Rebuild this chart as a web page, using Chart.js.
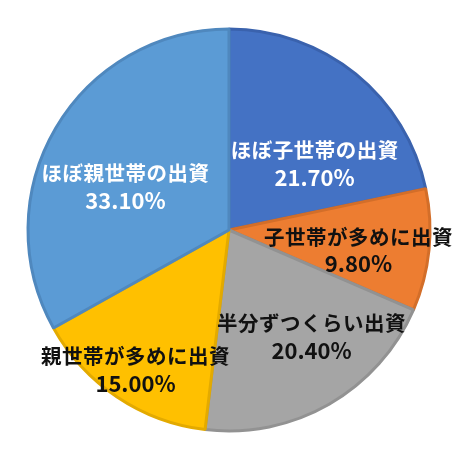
<!DOCTYPE html>
<html>
<head>
<meta charset="utf-8">
<script src="https://cdn.jsdelivr.net/npm/chart.js@4"></script>
<style>
  html, body { margin: 0; padding: 0; background: #fff; }
  #wrap { width: 476px; height: 463px; }
</style>
</head>
<body>
<div id="wrap"><canvas id="pie" width="476" height="463"></canvas></div>
<script>
// data, clockwise from 12 o'clock
const categories = ['ほぼ子世帯の出資', '子世帯が多めに出資', '半分ずつくらい出資', '親世帯が多めに出資', 'ほぼ親世帯の出資'];
const shares = [21.7, 9.8, 20.4, 15.0, 33.1];

const fills = ['#4472C4', '#ED7D31', '#A5A5A5', '#FFC000', '#5B9BD5'];
const edges = ['#3A62AD', '#D36E29', '#929292', '#E3AA00', '#4F88BE'];
const textColors = ['#fff', '#111', '#111', '#111', '#fff'];
// where each label sits, as a fraction of the radius from the centre
const labelSpots = [[0.426, -0.332], [0.644, 0.099], [0.411, 0.530], [-0.465, 0.693], [-0.515, -0.218]];

const pieLabels = {
  id: 'pieLabels',
  afterDatasetsDraw(chart) {
    const ctx = chart.ctx;
    const meta = chart.getDatasetMeta(0);
    ctx.save();
    ctx.textAlign = 'center';
    ctx.textBaseline = 'middle';
    meta.data.forEach((arc, i) => {
      const r = arc.outerRadius;
      const x = arc.x + labelSpots[i][0] * r;
      const y = arc.y + labelSpots[i][1] * r;
      ctx.fillStyle = textColors[i];
      ctx.font = 'bold 20.5px "Noto Sans CJK JP"';
      ctx.letterSpacing = '0.5px';
      ctx.fillText(chart.data.labels[i], x, y - 13);
      ctx.font = 'bold 22px "Noto Sans CJK JP"';
      ctx.letterSpacing = '0px';
      ctx.fillText(shares[i].toFixed(2) + '%', x, y + 14);
    });
    ctx.restore();
  }
};

new Chart(document.getElementById('pie'), {
  type: 'pie',
  data: {
    labels: categories,
    datasets: [{
      data: shares,
      backgroundColor: fills,
      borderColor: edges,
      borderWidth: 3
    }]
  },
  options: {
    responsive: false,
    animation: false,
    radius: 201,
    layout: { padding: { left: 0, right: 18, top: 0, bottom: 3 } },
    plugins: {
      legend: { display: false },
      tooltip: { enabled: false }
    }
  },
  plugins: [pieLabels]
});
</script>
</body>
</html>
